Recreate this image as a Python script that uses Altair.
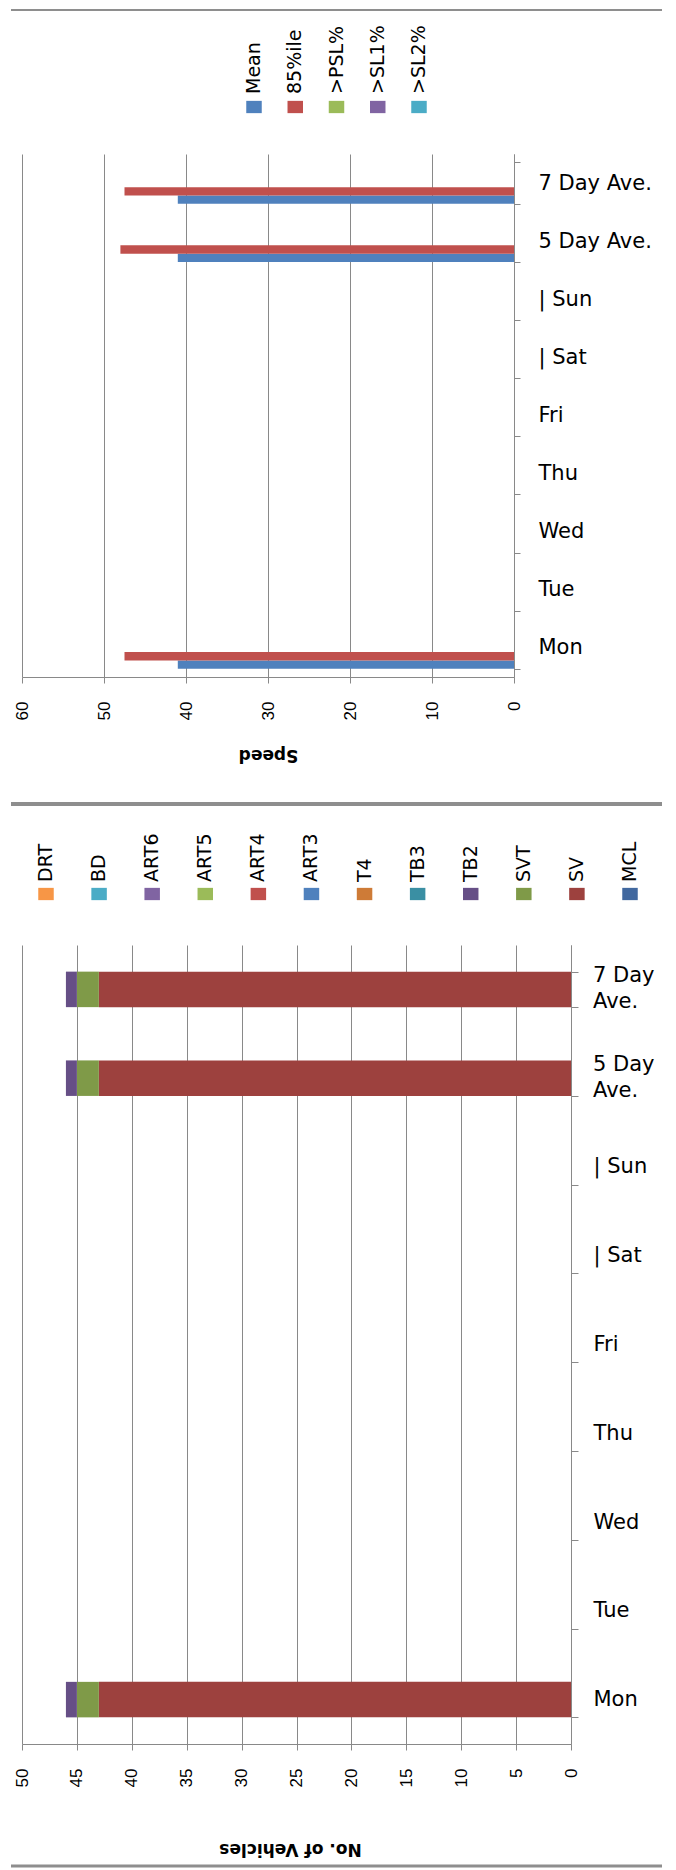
import altair as alt
import pandas as pd

# ---------------- data ----------------
days = ["Mon", "Tue", "Wed", "Thu", "Fri", "| Sat", "| Sun", "5 Day Ave.", "7 Day Ave."]
days_top_down = list(reversed(days))
avg_days = ["5 Day Ave.", "7 Day Ave."]
avg_lines = ["5 Day\n\u00a0Ave.", "7 Day\n\u00a0Ave."]

speed_series = ["Mean", "85%ile", ">PSL%", ">SL1%", ">SL2%"]
speed_colors = ["#4F81BD", "#C0504D", "#9BBB59", "#8064A2", "#4BACC6"]
mean_vals = [41.0, None, None, None, None, None, None, 41.0, 41.0]
p85_vals = [47.5, None, None, None, None, None, None, 48.0, 47.5]

class_series = ["MCL", "SV", "SVT", "TB2", "TB3", "T4", "ART3", "ART4", "ART5", "ART6", "BD", "DRT"]
class_colors = ["#41689F", "#9D413E", "#7F9A48", "#664F86", "#3A8FA3", "#CE7B37",
                "#4F81BD", "#C0504D", "#9BBB59", "#8064A2", "#4BACC6", "#F79646"]
sv_vals = [43, None, None, None, None, None, None, 43, 43]
svt_vals = [2, None, None, None, None, None, None, 2, 2]
tb2_vals = [1, None, None, None, None, None, None, 1, 1]

speed_ticks = [0, 10, 20, 30, 40, 50, 60]
veh_ticks = [0, 5, 10, 15, 20, 25, 30, 35, 40, 45, 50]

# ---------------- tables ----------------
speed_rows = []
for d, m, p in zip(days, mean_vals, p85_vals):
    if m is not None:
        speed_rows.append({"day": d, "series": "Mean", "value": m})
    if p is not None:
        speed_rows.append({"day": d, "series": "85%ile", "value": p})
speed_df = pd.DataFrame(speed_rows)

veh_rows = []
for name, vals in [("SV", sv_vals), ("SVT", svt_vals), ("TB2", tb2_vals)]:
    for d, v in zip(days, vals):
        if v is not None:
            veh_rows.append({"day": d, "series": name, "value": v,
                             "idx": class_series.index(name)})
veh_df = pd.DataFrame(veh_rows)

GRID = "#898989"
SEP = "#8E8E8E"
FONT = "DejaVu Sans"
TICKFONT = "Liberation Sans"
RECT = "M-1.26,-1H1.26V1H-1.26Z"
one = pd.DataFrame({"k": [0]})
RULE_L, RULE_R = -11, 640

# ---------------- row A: legend of speed chart ----------------
legA = alt.Chart(pd.DataFrame({"series": speed_series}))
xA = alt.X("series:N", scale=alt.Scale(type="point", domain=speed_series,
                                       range=[232, 397], padding=0), axis=None)
colA = alt.Color("series:N", scale=alt.Scale(domain=speed_series, range=speed_colors), legend=None)
rowA = alt.layer(
    alt.Chart(one).mark_rule(color=SEP, strokeWidth=2).encode(
        x=alt.value(RULE_L), x2=alt.value(RULE_R), y=alt.value(1)),
    legA.mark_point(shape=RECT, size=151, filled=True, opacity=1).encode(
        x=xA, y=alt.value(98), color=colA),
    legA.mark_text(angle=270, align="left", baseline="middle", fontSize=19,
                   color="#000").encode(x=xA, y=alt.value(85), text="series:N"),
).properties(width=492, height=145)

# ---------------- row B: speed chart ----------------
rowB = alt.Chart(speed_df).mark_bar().encode(
    x=alt.X("value:Q",
            scale=alt.Scale(domain=[0, 60], reverse=True, nice=False),
            axis=alt.Axis(values=speed_ticks, title="Speed", grid=True, gridColor=GRID,
                          domainColor=GRID, tickColor=GRID, tickSize=6,
                          labelAngle=270, labelAlign="right", labelBaseline="middle",
                          labelPadding=18, labelFont=TICKFONT, labelFontSize=17,
                          labelColor="#000", labelFlush=False, labelOverlap=False,
                          titleAngle=180, titleY=77, titleAlign="center",
                          titleBaseline="middle", titleFontSize=17, titleFontWeight="bold",
                          titleColor="#000")),
    y=alt.Y("day:N",
            scale=alt.Scale(domain=days_top_down, paddingInner=0.284, paddingOuter=0.142),
            axis=alt.Axis(orient="right", title=None, grid=False, domainColor=GRID,
                          tickColor=GRID, tickSize=6, tickBand="extent",
                          labelAlign="left", labelBaseline="middle", labelPadding=18,
                          labelFontSize=21, labelColor="#000")),
    yOffset=alt.YOffset("series:N", scale=alt.Scale(domain=list(reversed(speed_series)))),
    color=alt.Color("series:N", scale=alt.Scale(domain=speed_series, range=speed_colors),
                    legend=None),
).properties(width=492, height=523)

# ---------------- row C: legend of vehicle chart ----------------
leg_order = list(reversed(class_series))
legC = alt.Chart(pd.DataFrame({"series": leg_order}))
xC = alt.X("series:N", scale=alt.Scale(type="point", domain=leg_order,
                                       range=[24, 608], padding=0), axis=None)
colC = alt.Color("series:N", scale=alt.Scale(domain=class_series, range=class_colors), legend=None)
rowC = alt.layer(
    alt.Chart(one).mark_rule(color=SEP, strokeWidth=4).encode(
        x=alt.value(RULE_L), x2=alt.value(RULE_R), y=alt.value(127)),
    legC.mark_point(shape=RECT, size=151, filled=True, opacity=1).encode(
        x=xC, y=alt.value(217), color=colC),
    legC.mark_text(angle=270, align="left", baseline="middle", fontSize=19,
                   color="#000").encode(x=xC, y=alt.value(205), text="series:N"),
).properties(width=549, height=268)

# ---------------- row D: vehicle chart ----------------
yD_scale = alt.Scale(domain=days_top_down, paddingInner=0.6, paddingOuter=0.3)
barsD = alt.Chart(veh_df).mark_bar().encode(
    x=alt.X("value:Q", stack="zero",
            scale=alt.Scale(domain=[0, 50], reverse=True, nice=False),
            axis=alt.Axis(values=veh_ticks, title="No. of Vehicles", grid=True, gridColor=GRID,
                          domainColor=GRID, tickColor=GRID, tickSize=6,
                          labelAngle=270, labelAlign="right", labelBaseline="middle",
                          labelPadding=18, labelFont=TICKFONT, labelFontSize=17,
                          labelColor="#000", labelFlush=False, labelOverlap=False,
                          titleAngle=180, titleX=268, titleY=104, titleAlign="center",
                          titleBaseline="middle", titleFontSize=17, titleFontWeight="bold",
                          titleColor="#000")),
    y=alt.Y("day:N", scale=yD_scale,
            axis=alt.Axis(orient="right", title=None, grid=False, domainColor=GRID,
                          tickColor=GRID, tickSize=7, tickBand="extent",
                          labelAlign="left", labelBaseline="middle", labelPadding=15,
                          labelFontSize=21, labelColor="#000",
                          labelExpr="indexof(datum.label, 'Ave.') >= 0 ? '' : datum.label")),
    color=alt.Color("series:N", scale=alt.Scale(domain=class_series, range=class_colors),
                    legend=None),
    order=alt.Order("idx:Q", sort="ascending"),
)
avgD = alt.Chart(pd.DataFrame({"day": avg_days, "disp": avg_lines})).mark_text(
    align="left", baseline="middle", fontSize=21, color="#000", lineBreak="\n",
    lineHeight=26, dy=-13
).encode(
    x=alt.value(571),
    y=alt.Y("day:N", scale=yD_scale),
    text="disp:N",
)
ruleD = alt.Chart(one).mark_rule(color=SEP, strokeWidth=3).encode(
    x=alt.value(RULE_L), x2=alt.value(RULE_R), y=alt.value(921))
rowD = alt.layer(barsD, avgD, ruleD).properties(width=549, height=799)

chart = alt.vconcat(rowA, rowB, rowC, rowD, spacing=0, bounds="flush").resolve_scale(
    color="independent", x="independent", y="independent"
).properties(
    padding=0
).configure(font=FONT).configure_view(stroke="transparent")

chart.save("out.html", embed_options={"renderer": "svg", "actions": False})
